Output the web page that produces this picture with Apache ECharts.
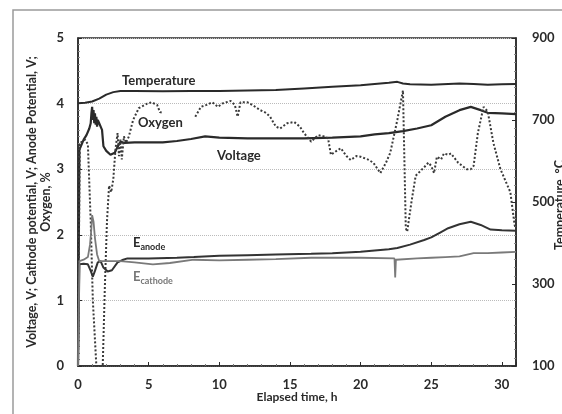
<!DOCTYPE html>
<html>
<head>
<meta charset="utf-8">
<script src="https://cdn.jsdelivr.net/npm/echarts@6/dist/echarts.min.js"></script>
<style>
  html, body { margin: 0; padding: 0; background: #fff; }
  #chart { width: 562px; height: 414px; }
</style>
</head>
<body>
<div id="chart"></div>
<script>
// Axis ticks
const timeTicks = [0, 5, 10, 15, 20, 25, 30];
const leftTicks = [0, 1, 2, 3, 4, 5];
const rightTicks = [100, 300, 500, 700, 900];

// Temperature, °C (right axis)
const tempTime = [0, 0.5, 1, 1.5, 2, 2.5, 3, 4, 6, 8, 10, 12, 14, 16, 18, 20, 21, 22, 22.6, 23, 23.5, 25, 27, 28, 29, 30, 31];
const tempValues = [741, 742, 745, 752, 762, 768, 771, 771, 770, 771, 771, 772, 773, 777, 781, 785, 788, 791, 793, 789, 787, 786, 789, 788, 786, 787, 788];

// Cell voltage, V
const voltTime = [0, 0.1, 0.2, 0.4, 0.6, 0.8, 0.9, 0.95, 1.0, 1.05, 1.1, 1.15, 1.2, 1.25, 1.3, 1.35, 1.4, 1.5, 1.6, 1.7, 1.8, 2.0, 2.3, 2.6, 2.8, 3.0, 3.3, 4, 5, 6, 7, 8, 9, 10, 12, 14, 16, 18, 20, 21, 22, 23, 24, 25, 26, 27, 27.8, 28.5, 29, 30, 31];
const voltValues = [0, 3.3, 3.35, 3.45, 3.52, 3.62, 3.7, 3.85, 3.95, 3.75, 3.9, 3.7, 3.85, 3.68, 3.8, 3.65, 3.75, 3.7, 3.72, 3.6, 3.35, 3.28, 3.22, 3.25, 3.34, 3.42, 3.40, 3.41, 3.41, 3.41, 3.43, 3.46, 3.5, 3.48, 3.47, 3.47, 3.47, 3.48, 3.5, 3.53, 3.55, 3.58, 3.62, 3.67, 3.8, 3.9, 3.95, 3.9, 3.86, 3.85, 3.84];

// Oxygen, % (null = no reading)
const oxyTime = [0, 0.12, 0.3, 0.5, 0.7, 0.9, 1.05, 1.3, 1.6, 1.75, 1.9, 2.05, 2.2, 2.35, 2.5, 2.65, 2.8, 2.9, 3.0, 3.1, 3.25, 3.4, 3.6, 3.9, 4.3, 4.9, 5.2, 5.6, 5.8, 6.0, 7.0,
  8.3, 8.7, 9.1, 9.5, 9.9, 10.2, 10.5, 10.8, 11.1, 11.3, 11.5, 12.0, 12.4, 12.9, 13.3, 13.6, 14.0, 14.3, 14.8, 15.3, 15.7, 16.0, 16.5, 17.0, 17.4, 17.7, 17.9, 18.3, 18.6, 19.0, 19.3, 19.7, 20.0, 20.5, 20.9, 21.4, 21.8, 22.1, 22.6, 23.0, 23.2, 23.3, 23.6, 23.9, 24.5, 24.8, 25.0, 25.2, 25.4, 25.7, 25.9, 26.2, 26.4, 26.9, 27.5, 27.8, 28.0, 28.3, 28.7, 29.0, 29.4, 29.9, 30.3, 30.6, 30.9, 31.0];
const oxyValues = [0, 3.4, 3.42, 3.45, 3.38, 2.2, 1.0, 0, 0, 0, 1.2, 2.2, 2.75, 2.65, 2.85, 3.3, 3.55, 3.2, 3.45, 3.15, 3.5, 3.4, 3.5, 3.75, 3.93, 4.0, 4.02, 3.98, 3.87, 3.86, null,
  3.8, 3.95, 3.98, 4.02, 3.95, 4.0, 4.02, 4.04, 3.98, 3.8, 4.02, 4.02, 3.97, 3.9, 3.86, 3.8, 3.65, 3.62, 3.7, 3.72, 3.65, 3.55, 3.42, 3.52, 3.5, 3.47, 3.22, 3.28, 3.32, 3.2, 3.14, 3.2, 3.19, 3.15, 3.1, 2.94, 3.1, 3.25, 3.75, 4.2, 2.1, 2.05, 2.5, 2.9, 3.03, 3.1, 3.05, 2.94, 3.19, 3.15, 3.24, 3.22, 3.24, 3.1, 3.0, 3.0, 3.05, 3.55, 3.95, 3.88, 3.4, 3.0, 2.8, 2.65, 2.15, 2.1];

// Anode potential, V
const anodeTime = [0, 0.1, 0.4, 0.7, 0.9, 1.05, 1.2, 1.4, 1.6, 1.8, 2.1, 2.4, 2.8, 3.2, 3.5, 5, 7, 8.2, 10, 12, 14, 16.5, 18, 20, 21, 22, 22.6, 23.5, 24.5, 25, 25.6, 26.2, 27, 27.8, 28.5, 29.2, 30, 31];
const anodeValues = [0, 1.55, 1.56, 1.55, 1.45, 1.36, 1.45, 1.58, 1.6, 1.5, 1.44, 1.46, 1.58, 1.62, 1.64, 1.64, 1.65, 1.66, 1.68, 1.69, 1.7, 1.71, 1.72, 1.74, 1.76, 1.78, 1.8, 1.85, 1.92, 1.96, 2.03, 2.1, 2.16, 2.2, 2.15, 2.08, 2.07, 2.06];

// Cathode potential, V
const cathodeTime = [0, 0.1, 0.4, 0.7, 0.85, 0.95, 1.0, 1.1, 1.2, 1.35, 1.5, 1.8, 2.2, 2.6, 3.0, 4, 5.3, 6.5, 8.2, 10, 12, 14, 16.5, 18, 20, 22.4, 22.45, 22.5, 22.6, 24, 25, 26, 27, 28, 29, 30, 31];
const cathodeValues = [0, 1.6, 1.62, 1.66, 1.85, 2.1, 2.3, 2.2, 1.95, 1.7, 1.6, 1.6, 1.6, 1.6, 1.6, 1.58, 1.55, 1.57, 1.62, 1.61, 1.62, 1.63, 1.65, 1.65, 1.65, 1.64, 1.35, 1.62, 1.64, 1.64, 1.65, 1.66, 1.67, 1.72, 1.72, 1.73, 1.74];

const pairs = (xs, ys) => xs.map((x, i) => [x, ys[i]]);

const FONT = 'Lato, "Open Sans", sans-serif';
const INK = '#2a2a2a';

const chart = echarts.init(document.getElementById('chart'), null, { renderer: 'canvas' });

const labelStyle = { fontFamily: FONT, fontWeight: 'bold', fontSize: 13, color: INK };

chart.setOption({
  animation: false,
  backgroundColor: '#fff',
  grid: { left: 78, right: 46, top: 38, bottom: 48, containLabel: false, outerBoundsMode: 'none',
          show: true, borderColor: INK, borderWidth: 1.5, backgroundColor: 'transparent' },
  xAxis: {
    type: 'value', min: 0, max: 31, interval: 5,
    name: 'Elapsed time, h', nameLocation: 'middle', nameGap: 25, nameMoveOverlap: false,
    nameTextStyle: { fontFamily: FONT, fontWeight: 'bold', fontSize: 12, color: INK },
    axisLine: { lineStyle: { color: INK, width: 1.5 } },
    axisTick: { inside: true, length: 4, lineStyle: { color: INK } },
    minorTick: { show: true, splitNumber: 5, length: 2, lineStyle: { color: '#777' } },
    axisLabel: Object.assign({ margin: 12, formatter: v => (timeTicks.includes(v) ? String(v) : '') }, labelStyle),
    splitLine: { show: false }
  },
  yAxis: [
    {
      type: 'value', min: leftTicks[0], max: leftTicks[leftTicks.length - 1], interval: 1,
      name: 'Voltage, V; Cathode potential, V; Anode Potential, V;\nOxygen, %',
      nameLocation: 'middle', nameGap: 25, nameRotate: 90, nameMoveOverlap: false,
      nameTextStyle: { fontFamily: FONT, fontWeight: 'bold', fontSize: 12.5, color: INK, lineHeight: 14 },
      axisLine: { show: true, lineStyle: { color: INK, width: 1.5 } },
      axisTick: { show: true, inside: true, length: 4, lineStyle: { color: INK } },
      minorTick: { show: true, splitNumber: 10, length: 2, lineStyle: { color: '#888' } },
      axisLabel: Object.assign({ margin: 14 }, labelStyle),
      splitLine: { show: true, lineStyle: { color: '#bbb', width: 1, type: 'dotted' } }
    },
    {
      type: 'value', min: rightTicks[0], max: rightTicks[rightTicks.length - 1], interval: 200, position: 'right',
      axisLine: { show: true, lineStyle: { color: INK, width: 1.5 } },
      axisTick: { show: true, inside: true, length: 4, lineStyle: { color: INK } },
      minorTick: { show: true, splitNumber: 10, length: 2, lineStyle: { color: '#888' } },
      axisLabel: Object.assign({ margin: 16 }, labelStyle),
      splitLine: { show: false }
    }
  ],
  series: [
    { name: 'Temperature', type: 'line', yAxisIndex: 1, data: pairs(tempTime, tempValues), showSymbol: false,
      lineStyle: { color: INK, width: 2 } },
    { name: 'Voltage', type: 'line', data: pairs(voltTime, voltValues), showSymbol: false,
      lineStyle: { color: INK, width: 2.2 } },
    { name: 'Oxygen', type: 'line', data: pairs(oxyTime, oxyValues), showSymbol: false, connectNulls: false,
      lineStyle: { color: '#3a3a3a', width: 2, type: [2, 2] } },
    { name: 'E anode', type: 'line', data: pairs(anodeTime, anodeValues), showSymbol: false,
      lineStyle: { color: '#333', width: 2 } },
    { name: 'E cathode', type: 'line', data: pairs(cathodeTime, cathodeValues), showSymbol: false,
      lineStyle: { color: '#7a7a7a', width: 1.8 } }
  ],
  graphic: [
    { type: 'rect', shape: { x: 13, y: 10, width: 620, height: 460 }, style: { fill: 'none', stroke: '#9a9a9a', lineWidth: 1.5 }, silent: true, z: -1 },
    // right-axis title, runs off the right edge of the chart area
    { type: 'text', x: 560, y: 205, rotation: Math.PI / 2,
      style: { text: 'Temperature, °C', font: 'bold 12.5px ' + FONT, fill: INK, align: 'center', verticalAlign: 'middle' } },
    { type: 'text', left: 122, top: 74, style: { text: 'Temperature', font: 'bold 13px ' + FONT, fill: INK } },
    { type: 'text', left: 138, top: 116, style: { text: 'Oxygen', font: 'bold 13px ' + FONT, fill: INK } },
    { type: 'text', left: 217, top: 149, style: { text: 'Voltage', font: 'bold 13px ' + FONT, fill: INK } },
    { type: 'text', left: 133, top: 236, style: {
        text: '{b|E}{s|anode}', fill: INK,
        rich: { b: { fontFamily: FONT, fontWeight: 'bold', fontSize: 13, color: INK, verticalAlign: 'top' },
                s: { fontFamily: FONT, fontWeight: 'bold', fontSize: 9, color: INK, padding: [7, 0, 0, 0] } } } },
    { type: 'text', left: 133, top: 270, style: {
        text: '{b|E}{s|cathode}', fill: '#777',
        rich: { b: { fontFamily: FONT, fontWeight: 'bold', fontSize: 13, color: '#777', verticalAlign: 'top' },
                s: { fontFamily: FONT, fontWeight: 'bold', fontSize: 9, color: '#777', padding: [7, 0, 0, 0] } } } }
  ]
});
</script>
</body>
</html>
